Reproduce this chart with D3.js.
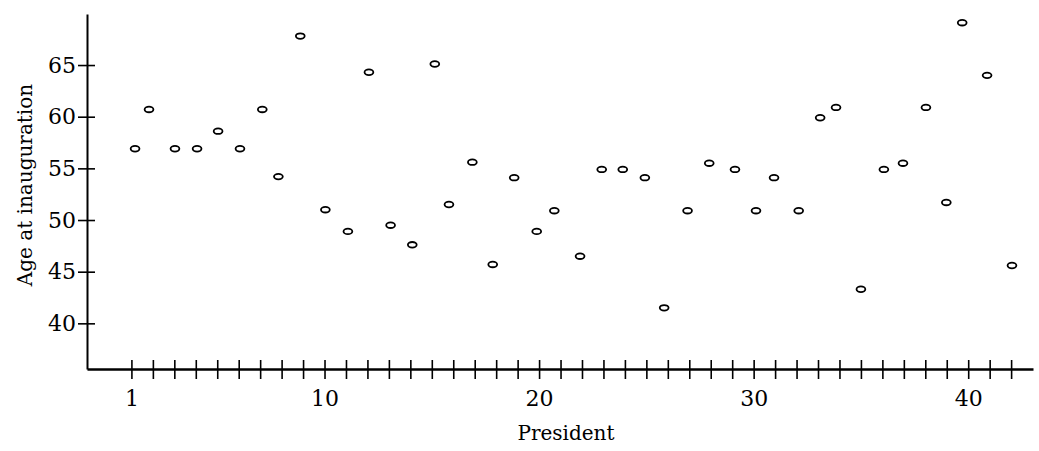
<!DOCTYPE html>
<html>
<head>
<meta charset="utf-8">
<script src="https://cdn.jsdelivr.net/npm/d3@7"></script>
<style>
  body { margin: 0; background: #fff; }
  text { font-family: "DejaVu Serif", serif; fill: #000; }
</style>
</head>
<body>
<div id="chart"></div>
<script>
// President positions (points sit slightly off the ticks)
const presidentPos = [1.17, 1.82, 3.03, 4.06, 5.04, 6.06, 7.10, 7.85, 8.87, 10.04,
    11.09, 12.07, 13.08, 14.09, 15.14, 15.80, 16.89, 17.84, 18.84, 19.89,
    20.71, 21.91, 22.92, 23.90, 24.93, 25.83, 26.92, 27.93, 29.13, 30.11,
    30.95, 32.10, 33.10, 33.84, 35.00, 36.07, 36.96, 38.03, 38.98, 39.72,
    40.88, 42.04];
const ageAtInauguration = [56.9, 60.7, 56.9, 56.9, 58.6, 56.9, 60.7, 54.2, 67.8, 51.0,
    48.9, 64.3, 49.5, 47.6, 65.1, 51.5, 55.6, 45.7, 54.1, 48.9,
    50.9, 46.5, 54.9, 54.9, 54.1, 41.5, 50.9, 55.5, 54.9, 50.9,
    54.1, 50.9, 59.9, 60.9, 43.3, 54.9, 55.5, 60.9, 51.7, 69.1,
    64.0, 45.6];
const xTicks = d3.range(1, 43);
const xTickLabels = [1, 10, 20, 30, 40];
const yTicks = [40, 45, 50, 55, 60, 65];

const width = 1039, height = 451;
const margin = { top: 14, right: 6, bottom: 82, left: 87 };

const svg = d3.select("#chart")
    .append("svg")
    .attr("width", width)
    .attr("height", height);

const x = d3.scaleLinear()
    .domain([-1.07, 43.02])
    .range([margin.left, width - margin.right]);
const y = d3.scaleLinear()
    .domain([35.58, 69.94])
    .range([height - margin.bottom, margin.top]);

// x axis
const xAxis = svg.append("g")
    .attr("transform", `translate(0, ${height - margin.bottom})`)
    .call(d3.axisBottom(x)
        .tickValues(xTicks)
        .tickSizeOuter(0)
        .tickFormat(d => xTickLabels.includes(d) ? d : ""));
xAxis.select(".domain").attr("stroke", "#000").attr("stroke-width", 2.5);
xAxis.selectAll(".tick line")
    .attr("y1", -9).attr("y2", 10)
    .attr("stroke", "#000").attr("stroke-width", 1.6);
xAxis.selectAll(".tick text")
    .attr("y", 21).attr("dy", "0.71em")
    .attr("font-size", 22);

// y axis
const yAxis = svg.append("g")
    .attr("transform", `translate(${margin.left}, 0)`)
    .call(d3.axisLeft(y).tickValues(yTicks).tickSizeOuter(0));
yAxis.select(".domain").attr("stroke", "#000").attr("stroke-width", 2);
yAxis.selectAll(".tick line")
    .attr("x1", -9).attr("x2", 8)
    .attr("stroke", "#000").attr("stroke-width", 1.6);
yAxis.selectAll(".tick text")
    .attr("x", -11)
    .attr("font-size", 22);
svg.selectAll(".tick text").attr("font-family", "DejaVu Serif").attr("fill", "#000");

// titles
svg.append("text")
    .attr("x", 566)
    .attr("y", 440)
    .attr("text-anchor", "middle")
    .attr("font-size", 20)
    .text("President");
svg.append("text")
    .attr("transform", `translate(32, 185) rotate(-90)`)
    .attr("text-anchor", "middle")
    .attr("font-size", 20)
    .text("Age at inauguration");

// points
svg.append("g")
    .selectAll("ellipse")
    .data(ageAtInauguration)
    .enter()
    .append("ellipse")
    .attr("cx", (d, i) => x(presidentPos[i]))
    .attr("cy", d => y(d))
    .attr("rx", 4.4)
    .attr("ry", 2.8)
    .attr("fill", "#fff")
    .attr("stroke", "#000")
    .attr("stroke-width", 1.8);
</script>
</body>
</html>
